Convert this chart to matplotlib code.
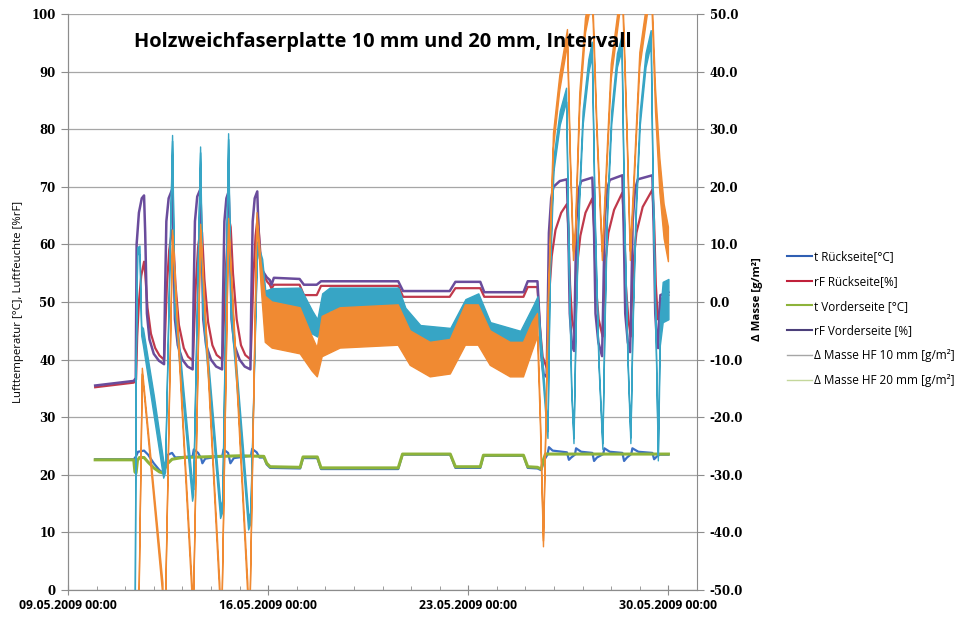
import datetime as dt
import numpy as np
import matplotlib
matplotlib.use("Agg")
import matplotlib.pyplot as plt
import matplotlib.dates as mdates
from matplotlib.lines import Line2D

# -------- data (time in days after 09.05.2009 00:00) --------
start = dt.datetime(2009, 5, 9)

# rF Vorderseite [%]
rfv_t = [0.95, 2.30, 2.37, 2.40, 2.48, 2.58, 2.66, 2.70, 2.76, 2.85, 3.00, 3.18, 3.36,
         3.39, 3.44, 3.52, 3.64, 3.68, 3.74, 3.84, 4.00, 4.18, 4.36,
         4.39, 4.44, 4.52, 4.63, 4.67, 4.73, 4.83, 5.00, 5.18, 5.39,
         5.42, 5.47, 5.54, 5.62, 5.66, 5.72, 5.82, 6.00, 6.18, 6.38,
         6.41, 6.46, 6.53, 6.62, 6.66, 6.72, 6.82, 6.95, 7.06, 7.12, 7.20,
         8.10, 8.25, 8.70, 8.85, 11.55, 11.72, 13.35, 13.55, 14.42, 14.56, 15.93, 16.08, 16.42,
         16.48, 16.55, 16.63, 16.74,
         16.77, 16.82, 16.90, 16.98, 17.20, 17.45, 17.50, 17.55, 17.62, 17.70,
         17.73, 17.78, 17.86, 17.95, 18.34, 18.40, 18.45, 18.55, 18.68,
         18.72, 18.77, 18.85, 18.95, 19.39, 19.44, 19.49, 19.58, 19.66,
         19.70, 19.75, 19.83, 19.93, 20.44, 20.49, 20.54, 20.60, 20.64,
         20.68, 20.72, 21.00]
rfv_v = [35.5, 36.3, 36.8, 60, 65.5, 68, 68.5, 62, 48, 43.5, 41, 39.8, 39.2,
         50, 64, 68, 69.5, 62, 47, 42.5, 40, 38.8, 38.3,
         50, 64, 68.3, 69.6, 62, 47, 42.5, 40, 38.8, 38.3,
         50, 64, 68, 69.2, 62, 47, 42.5, 40, 38.8, 38.3,
         50, 64, 68, 69.2, 63, 57.5, 55.3, 54.3, 53.8, 53, 54.2,
         54.0, 53.0, 53.0, 53.6, 53.6, 51.9, 51.9, 53.5, 53.5, 51.7, 51.7, 53.6, 53.6,
         48, 41, 37.5, 37.0,
         45, 62, 68, 70, 71, 71.3, 62, 48, 43, 41.5,
         50, 64, 69.5, 71, 71.6, 62, 48, 43, 40.6,
         50, 64, 69.5, 71.2, 72, 62, 48, 43, 41.3,
         50, 64, 69.5, 71.3, 72, 62, 48, 43, 42,
         48, 51.2, 51.7]

# rF Rückseite [%]
rfr_t = [0.95, 2.30, 2.38, 2.42, 2.48, 2.56, 2.66, 2.70, 2.78, 2.90, 3.05, 3.20, 3.36,
         3.40, 3.46, 3.54, 3.64, 3.68, 3.76, 3.88, 4.05, 4.20, 4.37,
         4.41, 4.47, 4.55, 4.65, 4.69, 4.77, 4.90, 5.05, 5.20, 5.40,
         5.44, 5.50, 5.57, 5.65, 5.69, 5.77, 5.90, 6.05, 6.20, 6.39,
         6.43, 6.49, 6.56, 6.64, 6.68, 6.75, 6.85, 6.97, 7.06, 7.12, 7.20,
         8.10, 8.25, 8.70, 8.85, 11.55, 11.72, 13.35, 13.55, 14.42, 14.56, 15.93, 16.08, 16.42,
         16.50, 16.60, 16.75,
         16.78, 16.84, 16.92, 17.05, 17.25, 17.45, 17.50, 17.56, 17.63, 17.72,
         17.76, 17.82, 17.92, 18.10, 18.34, 18.40, 18.46, 18.56, 18.70,
         18.74, 18.80, 18.90, 19.10, 19.39, 19.45, 19.51, 19.60, 19.68,
         19.72, 19.78, 19.88, 20.10, 20.44, 20.50, 20.56, 20.63,
         20.68, 20.74, 21.00]
rfr_v = [35.2, 36.0, 36.5, 44, 50, 54.5, 57, 55, 49, 44.5, 42, 40.7, 40,
         45, 53, 59, 62.5, 61, 53, 46, 42, 40.5, 39.8,
         45, 53, 59.5, 63.3, 62, 54, 46.5, 42.5, 40.8, 40,
         45, 54, 60, 64, 63, 55, 47, 42.5, 40.8, 40,
         46, 55, 61.5, 65, 62, 57, 54.5, 53.5, 53, 52.3, 53,
         53.0, 51.2, 51.2, 52.8, 52.8, 50.9, 50.9, 52.4, 52.4, 50.9, 50.9, 52.6, 52.6,
         46, 40.5, 38.5,
         42, 52, 58, 62.5, 65.5, 67, 63, 53, 47, 44.5,
         50, 57, 61.5, 65.5, 68, 63, 53, 47, 44,
         50, 57, 62, 66, 69, 64, 53, 47, 44,
         50, 57, 62, 66.5, 69.5, 64, 53, 47,
         47.5, 50.5, 51.2]

# t Vorderseite [°C]
tv_t = [0.95, 2.30, 2.34, 2.38, 2.43, 2.50, 2.66, 2.80, 3.00, 3.20, 3.33, 3.45, 3.64, 4.00,
        6.00, 6.85, 6.95, 7.07, 8.12, 8.22, 8.72, 8.85, 11.55, 11.70, 13.37, 13.55,
        14.42, 14.53, 15.93, 16.08, 16.42, 16.55, 16.62, 16.70, 21.00]
tv_v = [22.6, 22.6, 20.5, 20.3, 22.5, 23.0, 23.0, 22.2, 21.2, 20.5, 20.3, 21.8, 22.7, 23.0,
        23.3, 23.2, 22.0, 21.4, 21.3, 23.1, 23.1, 21.2, 21.2, 23.6, 23.6, 21.4,
        21.4, 23.4, 23.4, 21.4, 21.3, 21.0, 22.5, 23.6, 23.6]

# t Rückseite [°C]
tr_t = [0.95, 2.30, 2.38, 2.45, 2.66, 2.80, 3.00, 3.20, 3.33, 3.40, 3.50, 3.64, 3.75,
        4.36, 4.40, 4.55, 4.66, 4.70, 4.80, 5.40, 5.44, 5.60, 5.68, 5.80,
        6.40, 6.44, 6.60, 6.70, 6.85, 6.95, 7.07,
        8.12, 8.22, 8.72, 8.85, 11.55, 11.70, 13.37, 13.55, 14.42, 14.53, 15.93, 16.08,
        16.42, 16.55, 16.65, 16.77, 16.82, 16.95, 17.45, 17.52, 17.60, 17.73, 17.77, 17.95,
        18.34, 18.40, 18.50, 18.72, 18.76, 18.95, 19.39, 19.45, 19.55, 19.70, 19.74,
        19.95, 20.44, 20.50, 20.60, 20.70, 21.00]
tr_v = [22.7, 22.7, 23.2, 24.0, 24.2, 23.5, 22.0, 20.8, 20.3, 21.5, 23.5, 23.8, 23.0,
        23.2, 24.4, 23.8, 22.8, 22.0, 22.8, 23.3, 24.4, 23.8, 22.0, 22.9,
        23.3, 24.5, 23.9, 23.0, 23.0, 21.8, 21.2,
        21.1, 22.9, 22.9, 21.0, 21.0, 23.5, 23.5, 21.2, 21.2, 23.3, 23.3, 21.2,
        21.1, 20.8, 22.5, 23.5, 24.8, 24.2, 23.9, 22.6, 23.0, 23.5, 24.6, 24.0,
        23.8, 22.4, 23.0, 23.6, 24.6, 24.0, 23.8, 22.4, 23.0, 23.6, 24.6,
        24.0, 23.8, 22.7, 23.2, 23.5, 23.5]

# Δ Masse HF 10 mm [g/m²]: centre and half width of the noise band
m10_t = [2.33, 2.37, 2.42, 2.50, 2.56, 2.62, 3.00, 3.33,
         3.395, 3.64, 3.72, 4.34,
         4.375, 4.62, 4.70, 5.32,
         5.39, 5.60, 5.68, 6.30,
         6.37, 6.615, 6.79, 6.90, 7.14, 8.12, 8.54, 8.72, 8.89, 9.15, 11.55, 11.80,
         12.32, 13.37, 13.90, 14.35, 14.77, 15.82, 16.28, 16.42,
         16.50, 16.60, 16.72, 16.77, 16.85, 16.98, 17.20, 17.42, 17.50, 17.60, 17.68,
         17.75, 17.85, 18.00, 18.20, 18.32, 18.42, 18.55, 18.69,
         18.76, 18.85, 19.00, 19.20, 19.36, 19.45, 19.57, 19.67,
         19.74, 19.85, 20.00, 20.20, 20.38, 20.45, 20.55, 20.63,
         20.70, 20.80, 21.00]
m10_v = [-60, -10, 9, 9, -5, -6, -18, -29,
         -29, 28.5, 0, -33,
         -33, 26.5, 0, -36,
         -36, 28.8, 0, -38,
         -38, 10, 6, 0, -1, -0.5, -3.5, -4.5, -1, 0.5, 0.5, -3,
         -5.5, -6, -1.5, -0.5, -5, -6.5, -2, 0,
         -6, -12, -20, -23, 5, 24, 32, 36, 10, -15, -24,
         -5, 15, 32, 41, 44, 15, -10, -25,
         -5, 15, 32, 42, 45, 15, -10, -24,
         -5, 15, 32, 42, 46, 20, -5, -27,
         -5, 0, 0.5]
m10_s = [0.3, 0.3, 0.5, 0.8, 0.8, 1.5, 1.8, 1.5,
         0.5, 0.5, 1.5, 1.5,
         0.5, 0.5, 1.5, 1.5,
         0.5, 0.5, 1.5, 1.5,
         0.5, 0.5, 1.5, 2.0, 3.4, 3.0, 2.0, 1.5, 2.5, 2.0, 2.0, 2.0,
         1.5, 1.5, 2.0, 2.0, 1.5, 1.5, 1.5, 1.0,
         1.5, 1.5, 1.0, 0.6, 1.0, 1.2, 1.2, 1.2, 0.8, 0.6, 0.5,
         0.8, 1.0, 1.2, 1.2, 1.2, 0.8, 0.6, 0.5,
         0.8, 1.0, 1.2, 1.2, 1.2, 0.8, 0.6, 0.5,
         0.8, 1.0, 1.2, 1.2, 1.2, 0.8, 0.6, 0.5,
         2.5, 3.5, 3.5]

# Δ Masse HF 20 mm [g/m²]
m20_t = [2.46, 2.60, 3.32, 3.34,
         3.39, 3.66, 4.34, 4.36,
         4.38, 4.64, 5.31, 5.33,
         5.38, 5.62, 6.29, 6.31,
         6.36, 6.61, 6.75, 6.90, 7.14, 8.12, 8.54, 8.72, 8.89, 9.52, 11.55, 11.97,
         12.67, 13.37, 13.90, 14.35, 14.77, 15.47, 15.93, 16.24, 16.42,
         16.52, 16.63, 16.70, 16.80, 16.98, 17.20, 17.47, 17.57, 17.68,
         17.75, 17.90, 18.10, 18.34, 18.50, 18.69,
         18.75, 19.00, 19.39, 19.55, 19.67,
         19.75, 20.00, 20.40, 20.55, 20.70, 20.85, 21.00]
m20_v = [-60, -12, -50, -58,
         -58, 12, -50, -55,
         -55, 13, -50, -55,
         -55, 14, -50, -55,
         -55, 15, 5, -3, -4, -5, -9, -10.5, -6, -4.5, -4, -8,
         -10, -9.5, -4, -4, -8, -10, -10, -6, -4,
         -20, -42, -25, 0, 28, 38, 46, 25, 8,
         12, 35, 48, 54, 30, 8,
         14, 40, 55, 30, 8,
         16, 42, 56, 35, 22, 14, 10]
m20_s = [0.5, 0.5, 1.2, 1.2,
         0.5, 0.5, 1.2, 1.2,
         0.5, 0.5, 1.2, 1.2,
         0.5, 0.5, 1.2, 1.2,
         0.5, 0.5, 2.0, 4.0, 4.0, 4.0, 3.0, 2.5, 3.5, 3.5, 3.5, 3.0,
         3.0, 3.0, 3.5, 3.5, 3.0, 3.0, 3.0, 2.5, 2.0,
         1.0, 0.5, 0.5, 1.0, 1.3, 1.3, 1.3, 1.0, 0.8,
         1.0, 1.3, 1.3, 1.3, 1.0, 0.8,
         1.0, 1.3, 1.3, 1.0, 0.8,
         1.0, 1.3, 1.3, 2.0, 3.0, 3.0, 3.0]


def to_dates(days):
    return mdates.date2num([start + dt.timedelta(days=d) for d in days])


c_tr = '#3b6fc4'
c_rfr = '#c0394b'
c_tv = '#8db33a'
c_rfv = '#6a4c9c'
c_m10 = '#37a5c5'
c_m20 = '#f08a32'

fig = plt.figure(figsize=(9.63, 6.2), dpi=100)
ax = fig.add_axes([68 / 963, 30 / 620, 629 / 963, 576 / 620])
ax2 = ax.twinx()

ax.plot(to_dates(tr_t), tr_v, color=c_tr, lw=1.6, zorder=3)
ax.plot(to_dates(rfr_t), rfr_v, color=c_rfr, lw=1.6, zorder=3)
ax.plot(to_dates(tv_t), tv_v, color=c_tv, lw=2.2, zorder=3)
ax.plot(to_dates(rfv_t), rfv_v, color=c_rfv, lw=1.8, zorder=3)

for t, v, s, c in [(m10_t, m10_v, m10_s, c_m10), (m20_t, m20_v, m20_s, c_m20)]:
    v = np.array(v)
    s = np.array(s)
    ax2.fill_between(to_dates(t), v - s, v + s, color=c, lw=1.0, edgecolor=c)

# axes
ax.set_ylim(0, 100)
ax.set_yticks(range(0, 101, 10))
ax2.set_ylim(-50, 50)
ax2.set_yticks(range(-50, 51, 10))
ax2.set_yticklabels(['%.1f' % v for v in range(-50, 51, 10)])
ax.set_xlim(to_dates([0, 22]))
ax.xaxis.set_major_locator(mdates.DayLocator(bymonthday=[9, 16, 23, 30]))
ax.xaxis.set_minor_locator(mdates.DayLocator())
ax.xaxis.set_major_formatter(mdates.DateFormatter('%d.%m.%Y %H:%M'))

ax.grid(axis='y', color='#a6a6a6', lw=0.9)
ax.set_axisbelow(True)
for a in (ax, ax2):
    a.spines['top'].set_visible(False)
    for sp in a.spines.values():
        sp.set_color('#8c8c8c')
ax.spines['right'].set_visible(False)
ax.tick_params(axis='y', which='major', length=5, color='#8c8c8c', pad=4)
ax2.tick_params(axis='y', which='major', length=5, color='#8c8c8c', pad=4)
ax.tick_params(axis='x', which='major', direction='inout', length=7, color='#8c8c8c', pad=3)
ax.tick_params(axis='x', which='minor', direction='in', length=3, color='#8c8c8c')

for lab in ax.get_yticklabels() + ax2.get_yticklabels():
    lab.set_fontfamily('DejaVu Serif')
    lab.set_fontweight('bold')
    lab.set_fontsize(8.5)
for lab in ax.get_xticklabels():
    lab.set_fontfamily('Open Sans')
    lab.set_fontweight('bold')
    lab.set_fontsize(8.8)
    lab.set_horizontalalignment('center')

ax.set_ylabel('Lufttemperatur [°C], Luftfeuchte [%rF]', fontfamily='Open Sans',
              fontsize=8.2)
ax.yaxis.set_label_coords(-0.07, 0.50)
ax2.set_ylabel('Δ Masse [g/m²]', fontfamily='Open Sans', fontsize=8.2, fontweight='bold')
ax2.yaxis.set_label_coords(1.087, 0.505)

fig.text(383 / 963, 1 - 42 / 620, 'Holzweichfaserplatte 10 mm und 20 mm, Intervall',
         ha='center', va='center', fontsize=14.4, fontweight='bold', fontfamily='Open Sans')

handles = [Line2D([], [], color='#2f5fb3', lw=1.5),
           Line2D([], [], color='#c0203a', lw=1.5),
           Line2D([], [], color='#8db33a', lw=1.5),
           Line2D([], [], color='#4b3f7a', lw=1.5),
           Line2D([], [], color='#a6a6a6', lw=1.0),
           Line2D([], [], color='#c4d79b', lw=1.0)]
labels = ['t Rückseite[°C]', 'rF Rückseite[%]', 't Vorderseite [°C]', 'rF Vorderseite [%]',
          'Δ Masse HF 10 mm [g/m²]', 'Δ Masse HF 20 mm [g/m²]']
fig.legend(handles, labels, loc='upper left', bbox_to_anchor=(787 / 963, 1 - 250 / 620),
           frameon=False, prop=dict(family='Open Sans', size=8.5), handlelength=2.1,
           handletextpad=0.2, labelspacing=1.0, borderaxespad=0, borderpad=0)

fig.savefig('out.png', dpi=100)
